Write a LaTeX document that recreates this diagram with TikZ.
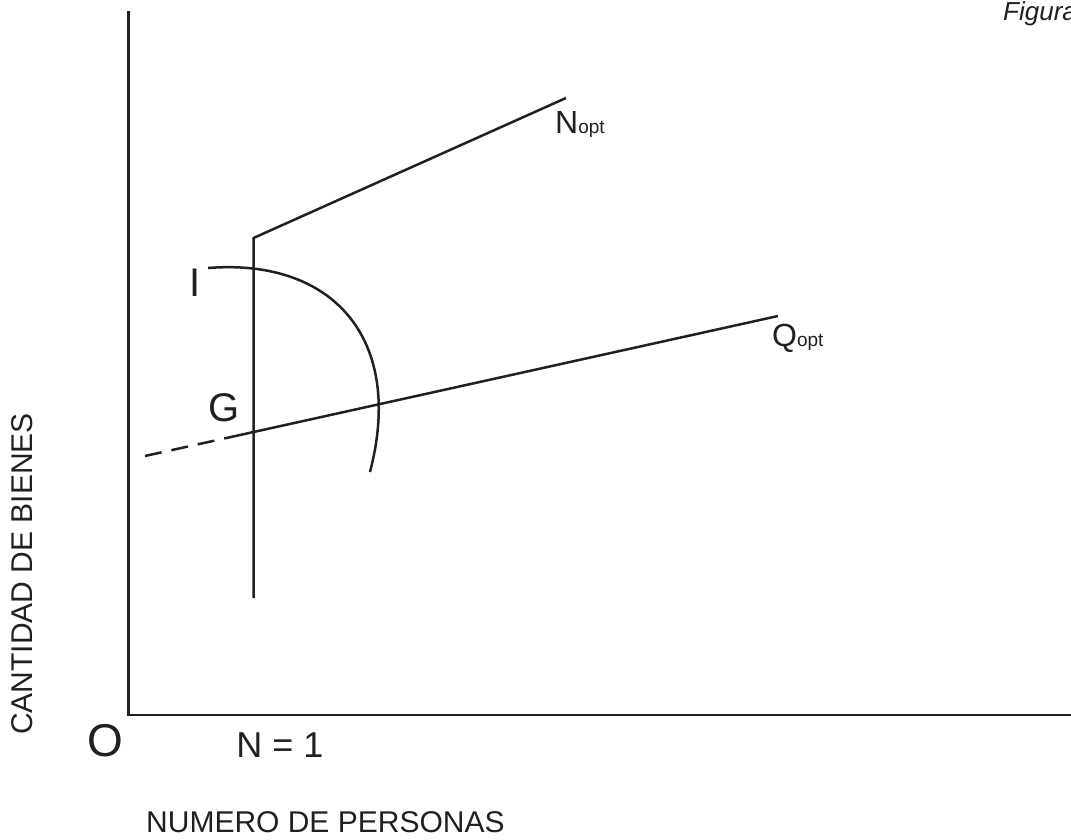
\documentclass[tikz,border=0pt]{standalone}
\usepackage{fontspec}
\setmainfont{Liberation Sans}
\definecolor{ink}{HTML}{231F20}
\begin{document}
\begin{tikzpicture}[x=1pt,y=-1pt,
  ln/.style={line width=2.5pt,color=ink},
  lbl/.style={inner sep=0pt,text=ink}]
\useasboundingbox (0,0) rectangle (1071,839);
% axes
\coordinate (ytop) at (128.5,11);
\coordinate (orig) at (128.5,715);
\coordinate (xend) at (1072,715);
\draw[ln] (ytop) -- (orig) -- (xend);
% N=1 vertical and N_opt
\coordinate (vbot) at (253.5,598);
\coordinate (vtop) at (253.5,238);
\coordinate (nopt) at (566,98);
\draw[ln] (vbot) -- (vtop) -- (nopt);
% Q line
\coordinate (qstart) at (145,456);
\coordinate (qmid) at (240,435);
\coordinate (qend) at (778,316);
\draw[ln,dash pattern=on 17pt off 10pt] (qstart) -- (qmid);
\draw[ln] (qmid) -- (qend);
% I curve
\coordinate (istart) at (208,268);
\coordinate (iend) at (370,472);
\draw[ln] (istart) .. controls (332,258) and (405,338) .. (iend);
% labels
\node[lbl,font=\fontsize{40}{40}\selectfont] (lI) at (195,283) {I};
\node[lbl,font=\fontsize{40}{40}\selectfont] (lG) at (224,408) {G};
\node[lbl,font=\fontsize{46}{46}\selectfont] (lO) at (105,741) {O};
\node[lbl,font=\fontsize{36}{36}\selectfont] (lN1) at (280,745) {N = 1};
\node[lbl,anchor=base west,font=\fontsize{32}{32}\selectfont] (lNopt) at (555,133) {N\fontsize{19}{19}\selectfont opt};
\node[lbl,anchor=base west,font=\fontsize{32}{32}\selectfont] (lQopt) at (772,346) {Q\fontsize{19}{19}\selectfont opt};
\node[lbl,anchor=base west,font=\fontsize{30}{30}\selectfont] (lx) at (146,832) {NUMERO DE PERSONAS};
\node[lbl,rotate=90,font=\fontsize{30}{30}\selectfont] (ly) at (22,574) {CANTIDAD DE BIENES};
\node[lbl,anchor=base west,font=\fontsize{26}{26}\selectfont\itshape] (fig) at (1003,20) {Figura};
\end{tikzpicture}
\end{document}
